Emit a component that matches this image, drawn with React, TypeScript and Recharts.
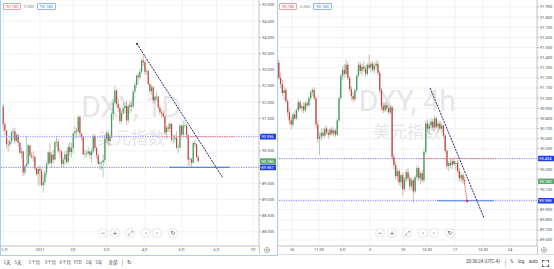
import React from 'react';
import { ComposedChart, Bar, XAxis, YAxis, CartesianGrid, ReferenceLine, ReferenceDot } from 'recharts';

// ---------- Daily DXY (left panel) ----------
const dailyDates = [
  '2020-12-01','2020-12-02','2020-12-03','2020-12-04','2020-12-07','2020-12-08','2020-12-09','2020-12-10','2020-12-11','2020-12-14','2020-12-15','2020-12-16','2020-12-17','2020-12-18','2020-12-21','2020-12-22','2020-12-23','2020-12-24','2020-12-28','2020-12-29','2020-12-30','2020-12-31',
  '2021-01-04','2021-01-05','2021-01-06','2021-01-07','2021-01-08','2021-01-11','2021-01-12','2021-01-13','2021-01-14','2021-01-15','2021-01-18','2021-01-19','2021-01-20','2021-01-21','2021-01-22','2021-01-25','2021-01-26','2021-01-27','2021-01-28','2021-01-29',
  '2021-02-01','2021-02-02','2021-02-03','2021-02-04','2021-02-05','2021-02-08','2021-02-09','2021-02-10','2021-02-11','2021-02-12','2021-02-15','2021-02-16','2021-02-17','2021-02-18','2021-02-19','2021-02-22','2021-02-23','2021-02-24','2021-02-25','2021-02-26',
  '2021-03-01','2021-03-02','2021-03-03','2021-03-04','2021-03-05','2021-03-08','2021-03-09','2021-03-10','2021-03-11','2021-03-12','2021-03-15','2021-03-16','2021-03-17','2021-03-18','2021-03-19','2021-03-22','2021-03-23','2021-03-24','2021-03-25','2021-03-26','2021-03-29','2021-03-30','2021-03-31',
  '2021-04-01','2021-04-02','2021-04-05','2021-04-06','2021-04-07','2021-04-08','2021-04-09','2021-04-12','2021-04-13','2021-04-14','2021-04-15','2021-04-16','2021-04-19','2021-04-20','2021-04-21','2021-04-22','2021-04-23','2021-04-26','2021-04-27','2021-04-28','2021-04-29','2021-04-30',
  '2021-05-03','2021-05-04','2021-05-05','2021-05-06','2021-05-07','2021-05-10','2021-05-11','2021-05-12','2021-05-13','2021-05-14','2021-05-17',
];

// [open, high, low, close]
const dailyOHLC: number[][] = [
  [91.87, 91.95, 91.10, 91.32],[91.32, 91.38, 90.98, 91.13],[91.13, 91.15, 90.56, 90.71],[90.71, 90.85, 90.47, 90.70],[90.70, 90.96, 90.61, 90.80],
  [90.80, 91.13, 90.72, 91.07],[91.07, 91.21, 90.85, 91.10],[91.10, 91.20, 90.72, 90.81],[90.81, 91.06, 90.77, 90.98],[90.98, 91.02, 90.62, 90.75],
  [90.75, 90.79, 90.40, 90.44],[90.44, 90.60, 90.27, 90.48],[90.48, 90.50, 89.72, 89.83],[89.83, 90.08, 89.74, 90.02],[90.02, 90.95, 90.00, 90.10],
  [90.10, 90.71, 90.06, 90.67],[90.67, 90.68, 90.28, 90.36],[90.36, 90.46, 90.25, 90.32],[90.32, 90.48, 90.16, 90.31],[90.31, 90.35, 89.89, 89.96],
  [89.96, 89.98, 89.72, 89.78],[89.78, 90.03, 89.42, 89.94],
  [89.94, 90.05, 89.43, 89.88],[89.88, 89.95, 89.42, 89.44],[89.44, 89.75, 89.21, 89.53],[89.53, 89.89, 89.43, 89.83],[89.83, 90.15, 89.68, 90.10],
  [90.10, 90.47, 90.05, 90.45],[90.45, 90.73, 90.08, 90.12],[90.12, 90.46, 89.98, 90.38],[90.38, 90.53, 90.10, 90.23],[90.23, 90.82, 90.20, 90.77],
  [90.77, 90.95, 90.63, 90.78],[90.78, 90.87, 90.43, 90.50],[90.50, 90.57, 90.27, 90.48],[90.48, 90.51, 89.98, 90.09],[90.09, 90.31, 89.98, 90.23],
  [90.23, 90.49, 90.05, 90.39],[90.39, 90.52, 90.10, 90.16],[90.16, 90.71, 90.10, 90.62],[90.62, 90.78, 90.34, 90.46],[90.46, 90.75, 90.29, 90.58],
  [90.58, 91.06, 90.42, 91.04],[91.04, 91.26, 90.86, 91.11],[91.11, 91.21, 90.91, 91.09],[91.09, 91.60, 91.05, 91.54],[91.54, 91.60, 90.90, 91.03],
  [91.03, 91.05, 90.82, 90.94],[90.94, 90.95, 90.37, 90.39],[90.39, 90.55, 90.27, 90.41],[90.41, 90.51, 90.30, 90.42],[90.42, 90.63, 90.38, 90.48],
  [90.48, 90.49, 90.25, 90.37],[90.37, 90.57, 90.12, 90.48],[90.48, 91.02, 90.40, 90.95],[90.95, 91.00, 90.50, 90.59],[90.59, 90.64, 90.25, 90.36],
  [90.36, 90.41, 90.05, 90.10],[90.10, 90.20, 89.91, 90.14],[90.14, 90.19, 89.90, 90.14],[90.14, 90.40, 89.68, 90.21],[90.21, 91.00, 90.10, 90.88],
  [90.88, 91.14, 90.72, 91.04],[91.04, 91.08, 90.67, 90.80],[90.80, 91.00, 90.64, 90.93],[90.93, 91.70, 90.88, 91.64],[91.64, 92.09, 91.44, 91.98],
  [91.98, 92.51, 91.91, 92.36],[92.36, 92.40, 91.85, 91.95],[91.95, 92.12, 91.70, 91.82],[91.82, 91.88, 91.32, 91.42],[91.42, 91.75, 91.35, 91.67],
  [91.67, 91.99, 91.60, 91.82],[91.82, 91.99, 91.65, 91.88],[91.88, 92.05, 91.30, 91.44],[91.44, 91.93, 91.35, 91.86],[91.86, 92.02, 91.66, 91.91],
  [91.91, 92.00, 91.70, 91.87],[91.87, 92.39, 91.82, 92.33],[92.33, 92.62, 92.24, 92.53],[92.53, 92.85, 92.43, 92.82],[92.82, 92.91, 92.57, 92.77],
  [92.77, 93.03, 92.70, 92.94],[92.94, 93.35, 92.88, 93.29],[93.29, 93.44, 93.12, 93.23],
  [93.23, 93.28, 92.84, 92.94],[92.94, 93.04, 92.86, 92.96],[92.96, 93.01, 92.52, 92.56],[92.56, 92.61, 92.26, 92.34],[92.34, 92.53, 92.22, 92.46],
  [92.46, 92.49, 91.96, 92.06],[92.06, 92.20, 91.97, 92.16],[92.16, 92.34, 92.03, 92.17],[92.17, 92.19, 91.77, 91.84],[91.84, 91.93, 91.61, 91.69],
  [91.69, 91.78, 91.54, 91.66],[91.66, 91.74, 91.50, 91.56],[91.56, 91.59, 90.99, 91.06],[91.06, 91.29, 90.86, 91.22],[91.22, 91.35, 91.08, 91.18],
  [91.18, 91.40, 91.05, 91.33],[91.33, 91.34, 90.77, 90.85],[90.85, 91.00, 90.69, 90.86],[90.86, 91.01, 90.75, 90.90],[90.90, 91.10, 90.55, 90.60],
  [90.60, 90.72, 90.42, 90.60],[90.60, 91.32, 90.58, 91.28],
  [91.28, 91.30, 90.93, 91.00],[91.00, 91.43, 90.95, 91.28],[91.28, 91.41, 91.20, 91.28],[91.28, 91.33, 90.86, 90.99],[90.99, 91.00, 90.03, 90.23],
  [90.23, 90.32, 90.04, 90.24],[90.24, 90.28, 89.97, 90.13],[90.13, 90.78, 90.11, 90.74],[90.74, 90.84, 90.60, 90.70],[90.70, 90.72, 90.28, 90.31],
  [90.31, 90.38, 90.14, 90.18],
];

const dailyTickIdx = [0, 22, 42, 62, 85, 107, 128, 150];
const dailyTickLabels = ['12月', '2021', '2月', '3月', '4月', '5月', '6月', '7月'];
const dailyPriceTicks = [88, 88.5, 89, 89.5, 90, 90.5, 91, 91.5, 92, 92.5, 93, 93.5, 94, 94.5, 95];
const dailyTags = [90.936, 89.987];

// ---------- 4h DXY (right panel) ----------
const h4OHLC: number[][] = [
  [91.35, 91.38, 91.18, 91.20],[91.20, 91.25, 91.10, 91.14],[91.14, 91.18, 91.02, 91.05],[91.05, 91.12, 90.98, 91.08],[91.08, 91.10, 90.95, 90.97],
  [90.97, 90.99, 90.82, 90.86],[90.86, 90.90, 90.74, 90.78],[90.78, 90.82, 90.69, 90.74],[90.74, 90.86, 90.72, 90.84],[90.84, 90.88, 90.78, 90.80],
  [90.80, 90.90, 90.78, 90.88],[90.88, 90.99, 90.86, 90.96],[90.96, 90.98, 90.88, 90.90],[90.90, 90.94, 90.86, 90.92],[90.92, 90.96, 90.85, 90.88],
  [90.88, 90.97, 90.86, 90.95],[90.95, 90.98, 90.90, 90.93],[90.93, 91.02, 90.91, 91.00],[91.00, 91.08, 90.97, 91.06],[91.06, 91.10, 91.02, 91.08],
  [91.08, 91.11, 90.98, 91.00],[91.00, 91.02, 90.70, 90.74],[90.74, 90.78, 90.56, 90.60],[90.60, 90.66, 90.44, 90.62],[90.62, 90.70, 90.58, 90.66],
  [90.66, 90.70, 90.60, 90.63],[90.63, 90.72, 90.61, 90.70],[90.70, 90.73, 90.64, 90.66],[90.66, 90.69, 90.60, 90.64],[90.64, 90.71, 90.62, 90.69],
  [90.69, 90.72, 90.63, 90.65],[90.65, 90.70, 90.62, 90.68],[90.68, 90.70, 90.62, 90.64],[90.64, 90.80, 90.63, 90.78],[90.78, 91.02, 90.76, 91.00],
  [91.00, 91.24, 90.98, 91.22],[91.22, 91.32, 91.18, 91.28],[91.28, 91.34, 91.20, 91.24],[91.24, 91.38, 91.22, 91.33],[91.33, 91.36, 91.18, 91.20],
  [91.20, 91.22, 91.06, 91.09],[91.09, 91.12, 90.98, 91.02],[91.02, 91.06, 90.96, 90.99],[90.99, 91.10, 90.97, 91.08],[91.08, 91.24, 91.06, 91.22],
  [91.22, 91.36, 91.20, 91.33],[91.33, 91.36, 91.24, 91.27],[91.27, 91.34, 91.22, 91.31],[91.31, 91.37, 91.26, 91.29],[91.29, 91.32, 91.21, 91.24],
  [91.24, 91.35, 91.22, 91.33],[91.33, 91.43, 91.28, 91.30],[91.30, 91.36, 91.25, 91.34],[91.34, 91.37, 91.26, 91.28],[91.28, 91.35, 91.24, 91.32],
  [91.32, 91.38, 91.27, 91.34],[91.34, 91.37, 91.22, 91.25],[91.25, 91.27, 91.05, 91.08],[91.08, 91.10, 90.89, 90.92],[90.92, 90.96, 90.85, 90.88],
  [90.88, 90.95, 90.86, 90.93],[90.93, 90.96, 90.87, 90.90],[90.90, 90.94, 90.84, 90.86],[90.86, 90.93, 90.84, 90.91],[90.91, 90.92, 90.38, 90.42],
  [90.42, 90.45, 90.30, 90.34],[90.34, 90.37, 90.20, 90.23],[90.23, 90.31, 90.18, 90.28],[90.28, 90.30, 90.14, 90.17],[90.17, 90.26, 90.12, 90.24],
  [90.24, 90.27, 90.04, 90.10],[90.10, 90.22, 90.08, 90.20],[90.20, 90.30, 90.17, 90.27],[90.27, 90.31, 90.18, 90.21],[90.21, 90.24, 90.09, 90.13],
  [90.13, 90.22, 90.10, 90.19],[90.19, 90.21, 89.97, 90.08],[90.08, 90.24, 90.06, 90.22],[90.22, 90.34, 90.20, 90.31],[90.31, 90.33, 90.18, 90.21],
  [90.21, 90.28, 90.15, 90.26],[90.26, 90.29, 90.16, 90.19],[90.19, 90.50, 90.17, 90.47],[90.47, 90.78, 90.45, 90.75],[90.75, 90.79, 90.66, 90.70],
  [90.70, 90.76, 90.64, 90.73],[90.73, 90.80, 90.70, 90.77],[90.77, 90.80, 90.68, 90.71],[90.71, 90.83, 90.69, 90.80],[90.80, 90.82, 90.70, 90.72],
  [90.72, 90.77, 90.66, 90.75],[90.75, 90.78, 90.68, 90.70],[90.70, 90.76, 90.66, 90.73],[90.73, 90.74, 90.60, 90.63],[90.63, 90.65, 90.45, 90.48],
  [90.48, 90.50, 90.30, 90.33],[90.33, 90.38, 90.28, 90.36],[90.36, 90.41, 90.31, 90.34],[90.34, 90.40, 90.30, 90.38],[90.38, 90.42, 90.33, 90.35],
  [90.35, 90.38, 90.29, 90.36],[90.36, 90.39, 90.26, 90.28],[90.28, 90.31, 90.18, 90.21],[90.21, 90.27, 90.17, 90.24],[90.24, 90.26, 90.16, 90.19],
  [90.19, 90.22, 90.15, 90.18],
];

const h4TickIdx = [7.4, 22.7, 36.2, 51.5, 70.1, 83.7, 99.5, 115.3, 130.6];
const h4TickLabels = ['26', '11:00', '5月', '5', '10', '15:00', '17', '15:00', '24'];
const h4PriceTicks = [89.6, 89.7, 89.8, 89.9, 90.0, 90.1, 90.2, 90.3, 90.4, 90.5, 90.6, 90.7, 90.8, 90.9, 91.0, 91.1, 91.2, 91.3, 91.4, 91.5, 91.6, 91.7, 91.8, 91.9];
const h4Tags = [90.404, 89.988];

const lastPrice = 90.18;

const UP = '#429a5e';
const DOWN = '#bd4a42';
const FONT = 'Roboto, "Liberation Sans", Arial, sans-serif';

const toRows = (ohlc: number[][], dates?: string[]) =>
  ohlc.map((c, i) => ({ i, date: dates ? dates[i] : undefined, open: c[0], high: c[1], low: c[2], close: c[3], range: [c[2], c[1]] }));

const dailyData = toRows(dailyOHLC, dailyDates);
const h4Data = toRows(h4OHLC);

// hide axis numbers that sit under a price tag (as the reference does)
const priceFormatter = (tags: number[], gap: number) => (v: number) =>
  tags.some((t) => Math.abs(t - v) < gap) ? '' : v.toFixed(3);

const makeCandle = (bodyW: number) => (props: any) => {
  const { x, y, width, height, payload } = props;
  if (!payload || x == null || y == null) return <g />;
  const { open, close, high, low } = payload;
  const cx = x + width / 2;
  const span = high - low;
  const py = (v: number) => (span === 0 ? y : y + ((high - v) / span) * height);
  const color = close >= open ? UP : DOWN;
  const top = py(Math.max(open, close));
  const bot = py(Math.min(open, close));
  return (
    <g>
      <line x1={cx} x2={cx} y1={y} y2={y + height} stroke={color} strokeOpacity={0.7} strokeWidth={0.6} />
      <rect x={cx - bodyW / 2} y={top} width={bodyW} height={Math.max(bot - top, 0.6)} fill={color} />
    </g>
  );
};

const tagLabel = (text: string, fill: string) => (p: any) => {
  const vb = p.viewBox || {};
  const x = (vb.x || 0) + (vb.width || 0);
  const y = vb.y || 0;
  return (
    <g>
      <rect x={x + 1} y={y - 2.8} width={16} height={5.6} fill={fill} rx={0.5} />
      <text x={x + 2.2} y={y + 1.5} fontSize={4} fill="#fff" fontFamily={FONT}>{text}</text>
    </g>
  );
};

const Watermark = ({ left, top, title }: { left: number; top: number; title: string }) => (
  <div style={{ position: 'absolute', left, top, width: 170, textAlign: 'center', fontFamily: FONT, color: '#e6e6e6', pointerEvents: 'none' }}>
    <div style={{ fontSize: 30, lineHeight: '30px', letterSpacing: -0.5 }}>{title}</div>
    <div style={{ fontSize: 17, lineHeight: '18px', marginTop: 6, fontFamily: '"Noto Sans CJK SC", sans-serif' }}>美元指数</div>
  </div>
);

const Legend = ({ left }: { left: number }) => (
  <div style={{ position: 'absolute', left, top: 2.5, display: 'flex', alignItems: 'center', fontFamily: FONT, fontSize: 4, lineHeight: '5px' }}>
    <span style={{ border: '0.6px solid #f2a0a0', color: '#e06060', padding: '0 2px', borderRadius: 1 }}>90.180</span>
    <span style={{ color: '#888', margin: '0 3px' }}>0.000</span>
    <span style={{ border: '0.6px solid #90b8f0', color: '#4a80e0', padding: '0 2px', borderRadius: 1 }}>90.180</span>
  </div>
);

const NavButtons = ({ xs }: { xs: number[] }) => {
  const syms = ['−', '+', '⤢', '‹', '›', '↻'];
  return (
    <>
      {xs.map((x, k) => (
        <div key={k} style={{ position: 'absolute', left: x - 4, top: 229, width: 8, height: 8, borderRadius: 4, background: '#fff', boxShadow: '0 0 1.5px rgba(0,0,0,0.35)', fontFamily: '"DejaVu Sans", sans-serif', fontSize: 6, lineHeight: '8px', textAlign: 'center', color: '#555' }}>
          {syms[k]}
        </div>
      ))}
    </>
  );
};

const Gear = ({ left }: { left: number }) => (
  <svg style={{ position: 'absolute', left: left - 4, top: 246 }} width={8} height={8}>
    <circle cx={4} cy={4} r={2.6} fill="none" stroke="#666" strokeWidth={0.8} strokeDasharray="1 0.6" />
    <circle cx={4} cy={4} r={1} fill="none" stroke="#666" strokeWidth={0.6} />
  </svg>
);

const axisTick = { fontSize: 4, fill: '#555', fontFamily: FONT };

export default function App() {
  const dailyCandle = makeCandle(1.2);
  const h4Candle = makeCandle(1.3);
  return (
    <div style={{ position: 'absolute', left: 0, top: 0, width: 554, height: 269, background: '#fff', overflow: 'hidden', fontFamily: FONT }}>
      <Watermark left={46} top={92} title="DXY, 1D" />
      <Watermark left={322} top={86} title="DXY, 4h" />

      {/* Left: daily */}
      <div style={{ position: 'absolute', left: 0, top: 0 }}>
        <ComposedChart width={277} height={254} data={dailyData} margin={{ top: 0, right: 0, bottom: 0, left: 0 }}>
          <CartesianGrid stroke="#eeeeee" strokeWidth={0.7} />
          <XAxis type="number" dataKey="i" domain={[-1.98, 153.4]} allowDataOverflow ticks={dailyTickIdx}
            tickFormatter={(v: number) => dailyTickLabels[dailyTickIdx.indexOf(v)] ?? ''} interval={0}
            height={8} tickSize={0} tickMargin={2} tick={axisTick} axisLine={{ stroke: '#c8c8c8' }} />
          <YAxis orientation="right" type="number" domain={[87.562, 95.154]} allowDataOverflow ticks={dailyPriceTicks}
            tickFormatter={priceFormatter(dailyTags, 0.1)} interval={0} width={18} tickSize={2} tickMargin={1}
            tick={axisTick} axisLine={{ stroke: '#c8c8c8' }} tickLine={{ stroke: '#bbbbbb' }} />
          <ReferenceLine y={90.936} stroke="#8a8af2" strokeDasharray="1.2 1.2" strokeWidth={1} label={tagLabel('90.936', '#1f3fe6')} />
          <ReferenceLine y={89.987} stroke="#8a8af2" strokeDasharray="1.2 1.2" strokeWidth={1} label={tagLabel('89.987', '#1f3fe6')} />
          <ReferenceLine y={lastPrice} stroke="none" label={tagLabel('90.180', '#5fa872')} />
          <ReferenceLine segment={[{ x: 95.2, y: 90.936 }, { x: 139, y: 90.936 }]} stroke="#f08a8a" strokeDasharray="1.5 0.8" strokeWidth={1} />
          <ReferenceLine segment={[{ x: 99.4, y: 89.987 }, { x: 136, y: 89.987 }]} stroke="#4f86e8" strokeWidth={1.1} />
          <Bar dataKey="range" barSize={2} shape={dailyCandle} isAnimationActive={false} />
          <ReferenceLine segment={[{ x: 80.2, y: 93.8 }, { x: 131.8, y: 89.66 }]} stroke="#25256e" strokeDasharray="2 1" strokeWidth={1} />
          <ReferenceDot x={80.2} y={93.8} r={1} fill="#25256e" stroke="none" />
        </ComposedChart>
      </div>

      {/* Right: 4h */}
      <div style={{ position: 'absolute', left: 278, top: 0 }}>
        <ComposedChart width={276} height={254} data={h4Data} margin={{ top: 0, right: 0, bottom: 0, left: 0 }}>
          <CartesianGrid stroke="#eeeeee" strokeWidth={0.7} />
          <XAxis type="number" dataKey="i" domain={[-0.51, 145.8]} allowDataOverflow ticks={h4TickIdx}
            tickFormatter={(v: number) => h4TickLabels[h4TickIdx.indexOf(v)] ?? ''} interval={0}
            height={8} tickSize={0} tickMargin={2} tick={axisTick} axisLine={{ stroke: '#c8c8c8' }} />
          <YAxis orientation="right" type="number" domain={[89.541, 91.969]} allowDataOverflow ticks={h4PriceTicks}
            tickFormatter={priceFormatter([...h4Tags, lastPrice], 0.035)} interval={0} width={17} tickSize={2} tickMargin={1}
            tick={axisTick} axisLine={{ stroke: '#c8c8c8' }} tickLine={{ stroke: '#bbbbbb' }} />
          <ReferenceLine y={90.404} stroke="#8a8af2" strokeDasharray="1.2 1.2" strokeWidth={1} label={tagLabel('90.404', '#1f3fe6')} />
          <ReferenceLine y={89.988} stroke="#8a8af2" strokeDasharray="1.2 1.2" strokeWidth={1} label={tagLabel('89.988', '#1f3fe6')} />
          <ReferenceLine y={lastPrice} stroke="none" label={tagLabel('90.180', '#5fa872')} />
          <ReferenceLine segment={[{ x: 79.2, y: 90.404 }, { x: 122.1, y: 90.404 }]} stroke="#f08a8a" strokeDasharray="1.5 0.8" strokeWidth={1} />
          <ReferenceLine segment={[{ x: 89.3, y: 89.988 }, { x: 121.5, y: 89.988 }]} stroke="#4f86e8" strokeWidth={1.1} />
          <Bar dataKey="range" barSize={2} shape={h4Candle} isAnimationActive={false} />
          <ReferenceLine segment={[{ x: 85.4, y: 91.1 }, { x: 115.9, y: 89.817 }]} stroke="#25256e" strokeDasharray="2 1" strokeWidth={1} />
          <ReferenceLine segment={[{ x: 104.6, y: 90.18 }, { x: 106.3, y: 89.985 }]} stroke="#e53935" strokeDasharray="1.2 0.8" strokeWidth={0.9} />
          <ReferenceDot x={106.3} y={89.985} r={1.3} fill="#e53935" stroke="none" />
        </ComposedChart>
      </div>

      <Legend left={3} />
      <Legend left={279} />
      <NavButtons xs={[103, 115, 130, 146, 157, 173]} />
      <NavButtons xs={[380, 392, 407, 423, 434, 450]} />
      <Gear left={267} />
      <Gear left={544} />

      {/* panel frames */}
      <div style={{ position: 'absolute', left: 259, top: 246, width: 0.8, height: 8, background: '#c8c8c8' }} />
      <div style={{ position: 'absolute', left: 537, top: 246, width: 0.8, height: 8, background: '#c8c8c8' }} />
      <div style={{ position: 'absolute', left: 277, top: 0, width: 1, height: 256, background: '#d6d6d6' }} />
      <div style={{ position: 'absolute', left: 0, top: -2, width: 276, height: 255.5, border: '1px solid #a9cff6', pointerEvents: 'none' }} />
      <div style={{ position: 'absolute', left: 278, top: 254, width: 276, height: 1, background: '#dcdcdc' }} />

      {/* bottom toolbar */}
      <div style={{ position: 'absolute', left: 0, top: 257, width: 554, height: 12, fontSize: 4.5, color: '#444', fontFamily: '"Noto Sans CJK SC", Roboto, sans-serif' }}>
        {[['1天', 7], ['5天', 18], ['1个月', 32], ['3个月', 48], ['6个月', 63], ['YTD', 77], ['1年', 89], ['5年', 99], ['全部', 112]].map(([t, x]) => (
          <span key={String(t) + x} style={{ position: 'absolute', left: (x as number) - 3.5, top: 2, whiteSpace: 'nowrap' }}>{t}</span>
        ))}
        <div style={{ position: 'absolute', left: 122, top: 2, width: 0.6, height: 7, background: '#ccc' }} />
        <span style={{ position: 'absolute', left: 127, top: 1.5, fontSize: 5.5, fontFamily: '"DejaVu Sans", sans-serif' }}>↻</span>
        <span style={{ position: 'absolute', left: 466, top: 2, whiteSpace: 'nowrap', fontFamily: FONT }}>20:36:24 (UTC-4)</span>
        <div style={{ position: 'absolute', left: 505, top: 2, width: 0.6, height: 7, background: '#ccc' }} />
        <span style={{ position: 'absolute', left: 510, top: 2, fontFamily: FONT }}>%</span>
        <span style={{ position: 'absolute', left: 518, top: 2, fontFamily: FONT }}>log</span>
        <span style={{ position: 'absolute', left: 529, top: 2, fontFamily: FONT }}>auto</span>
        <div style={{ position: 'absolute', left: 542, top: 2.5, width: 5, height: 5, border: '0.7px dashed #666' }} />
      </div>
    </div>
  );
}
